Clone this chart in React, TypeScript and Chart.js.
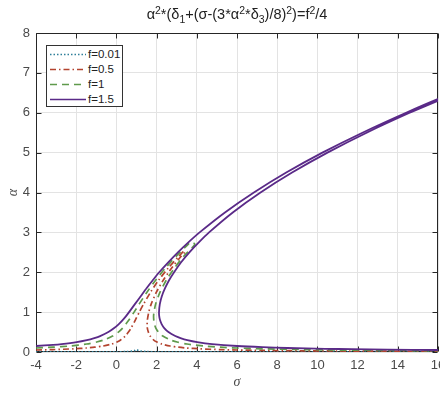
import React, { useEffect, useRef } from 'react';
import { Chart, registerables } from 'chart.js';

Chart.register(...registerables);

// f = 0.01
const f001Sigma = [-4, -2, 0, 0.5, 0.8, 0.9, 1.0, 1.1, 1.2, 1.5, 2, 4, 8, 16];
const f001Alpha = [0.001, 0.0017, 0.005, 0.0099, 0.023, 0.035, 0.06, 0.035, 0.023, 0.0099, 0.005, 0.0017, 0.0007, 0.0003];

// f = 0.5
const f05Sigma = [-4.0, -3.17, -2.12, -1.5, -1.08, -0.66, -0.23, 0.03, 0.21, 0.44, 0.6, 0.73, 0.94, 1.14, 1.35, 1.7, 2.1, 2.57, 3.1, 3.29,
  3.34,
  3.4, 3.22, 2.74, 2.33, 1.99, 1.73, 1.61, 1.54, 1.53, 1.54, 1.59, 1.68, 1.86, 2.02, 2.26, 2.67, 3.09, 3.5, 4.13, 5.17, 6.0, 7.25, 9.33, 11.0, 13.5, 16.0];
const f05Alpha = [0.05, 0.06, 0.08, 0.1, 0.12, 0.15, 0.2, 0.25, 0.3, 0.4, 0.5, 0.6, 0.8, 1.0, 1.2, 1.5, 1.8, 2.1, 2.4, 2.5,
  2.54,
  2.5, 2.4, 2.1, 1.8, 1.5, 1.2, 1.0, 0.8, 0.7, 0.6, 0.5, 0.4, 0.3, 0.25, 0.2, 0.15, 0.12, 0.1, 0.08, 0.06, 0.05, 0.04, 0.03, 0.025, 0.02, 0.0167];

// f = 1
const f1Sigma = [-4.0, -3.16, -2.32, -1.48, -0.98, -0.63, -0.19, 0.1, 0.31, 0.47, 0.62, 0.88, 1.13, 1.52, 1.95, 2.43, 2.97, 3.57,
  3.73,
  3.9, 3.35, 2.88, 2.48, 2.17, 1.95, 1.87, 1.85, 1.86, 1.89, 1.96, 2.09, 2.31, 2.7, 3.02, 3.51, 4.34, 5.17, 6.0, 7.25, 9.34, 11.0, 13.5, 16.0];
const f1Alpha = [0.1, 0.12, 0.15, 0.2, 0.25, 0.3, 0.4, 0.5, 0.6, 0.7, 0.8, 1.0, 1.2, 1.5, 1.8, 2.1, 2.4, 2.7,
  2.76,
  2.7, 2.4, 2.1, 1.8, 1.5, 1.2, 1.0, 0.9, 0.8, 0.7, 0.6, 0.5, 0.4, 0.3, 0.25, 0.2, 0.15, 0.12, 0.1, 0.08, 0.06, 0.05, 0.04, 0.0333];

// f = 1.5
const f15Sigma = [-3.99, -3.15, -2.73, -1.98, -1.47, -1.1, -0.81, -0.4, -0.11, 0.12, 0.31, 0.48, 0.63, 0.92, 1.21, 1.5, 1.81, 2.13, 2.58, 3.06, 3.58, 4.14, 5.4, 6.84, 8.45, 10.25, 12.24, 14.41, 16.28,
  16.44, 14.59, 12.45, 10.5, 8.74, 7.17, 5.79, 4.61, 4.1, 3.63, 3.22, 2.87, 2.62, 2.42, 2.26, 2.16, 2.12, 2.13, 2.17, 2.25, 2.38, 2.59, 2.93, 3.19, 3.53, 4.02, 4.76, 6.01, 7.26, 8.5, 10.38, 11.72, 13.5, 16.0];
const f15Alpha = [0.15, 0.18, 0.2, 0.25, 0.3, 0.35, 0.4, 0.5, 0.6, 0.7, 0.8, 0.9, 1.0, 1.2, 1.4, 1.6, 1.8, 2.0, 2.25, 2.5, 2.75, 3.0, 3.5, 4.0, 4.5, 5.0, 5.5, 6.0, 6.4,
  6.4, 6.0, 5.5, 5.0, 4.5, 4.0, 3.5, 3.0, 2.75, 2.5, 2.25, 2.0, 1.8, 1.6, 1.4, 1.2, 1.0, 0.9, 0.8, 0.7, 0.6, 0.5, 0.4, 0.35, 0.3, 0.25, 0.2, 0.15, 0.12, 0.1, 0.08, 0.07, 0.06, 0.05];

const xTickValues = [-4, -2, 0, 2, 4, 6, 8, 10, 12, 14, 16];
const yTickValues = [0, 1, 2, 3, 4, 5, 6, 7, 8];

const seriesLabels = ['f=0.01', 'f=0.5', 'f=1', 'f=1.5'];
const seriesColors = ['#2f7f99', '#b3432f', '#5f9a4c', '#5a2a88'];
const seriesDashes: number[][] = [[1.5, 2], [6, 3, 1.5, 3], [7, 5], []];

const zip = (xs: number[], ys: number[]) => xs.map((x, i) => ({ x, y: ys[i] }));

const framePlugin = {
  id: 'frame',
  beforeDatasetsDraw(chart: any) {
    const { ctx, chartArea } = chart;
    const { left, right, top, bottom } = chartArea;
    const xs = chart.scales.x;
    const ys = chart.scales.y;
    const L = Math.round(left) + 0.5;
    const R = Math.round(right) - 0.5;
    const T = Math.round(top) + 0.5;
    const B = Math.round(bottom) - 0.5;
    ctx.save();
    ctx.strokeStyle = '#262626';
    ctx.lineWidth = 1;
    ctx.beginPath();
    ctx.rect(L, T, R - L, B - T);
    const tl = 5;
    xTickValues.forEach((v) => {
      const px = Math.round(xs.getPixelForValue(v)) + 0.5;
      ctx.moveTo(px, B);
      ctx.lineTo(px, B - tl);
      ctx.moveTo(px, T);
      ctx.lineTo(px, T + tl);
    });
    yTickValues.forEach((v) => {
      const py = Math.round(ys.getPixelForValue(v)) + 0.5;
      ctx.moveTo(L, py);
      ctx.lineTo(L + tl, py);
      ctx.moveTo(R, py);
      ctx.lineTo(R - tl, py);
    });
    ctx.stroke();
    ctx.restore();
  },
};

export default function App() {
  const ref = useRef<HTMLCanvasElement>(null);

  useEffect(() => {
    const sets = [
      zip(f001Sigma, f001Alpha),
      zip(f05Sigma, f05Alpha),
      zip(f1Sigma, f1Alpha),
      zip(f15Sigma, f15Alpha),
    ];
    const chart = new Chart(ref.current as HTMLCanvasElement, {
      type: 'scatter',
      data: {
        datasets: sets.map((d, i) => ({
          label: seriesLabels[i],
          data: d,
          showLine: true,
          borderColor: seriesColors[i],
          backgroundColor: seriesColors[i],
          borderWidth: i === 3 ? 1.8 : 1.7,
          borderDash: seriesDashes[i],
          pointRadius: 0,
          tension: 0.25,
          order: 3 - i,
        })),
      },
      plugins: [framePlugin],
      options: {
        animation: false,
        responsive: false,
        devicePixelRatio: 1,
        layout: { padding: { top: 33, right: 2, left: 0, bottom: 0 } },
        plugins: {
          legend: { display: false },
          title: { display: false },
          tooltip: { enabled: false },
        },
        scales: {
          x: {
            type: 'linear',
            min: -4,
            max: 16,
            afterBuildTicks: (s: any) => {
              s.ticks = xTickValues.map((v) => ({ value: v }));
            },
            afterFit: (s: any) => {
              s.height = 42;
              s.paddingLeft = 0;
              s.paddingRight = 0;
            },
            ticks: {
              color: '#4a4a4a',
              padding: 6,
              maxRotation: 0,
              font: { family: '"Liberation Sans", Arial, sans-serif', size: 13 },
            },
            grid: { color: '#e3e3e3', drawTicks: false },
            border: { display: false },
            title: {
              display: true,
              text: 'σ',
              color: '#4a4a4a',
              padding: { top: 0, bottom: 3 },
              font: { family: '"Liberation Serif", serif', size: 14, style: 'italic' },
            },
          },
          y: {
            type: 'linear',
            min: 0,
            max: 8,
            afterBuildTicks: (s: any) => {
              s.ticks = yTickValues.map((v) => ({ value: v }));
            },
            afterFit: (s: any) => {
              s.width = 36;
              s.paddingTop = 0;
              s.paddingBottom = 0;
            },
            ticks: {
              color: '#4a4a4a',
              padding: 6,
              font: { family: '"Liberation Sans", Arial, sans-serif', size: 13 },
            },
            grid: { color: '#e3e3e3', drawTicks: false },
            border: { display: false },
            title: {
              display: true,
              text: 'α',
              color: '#4a4a4a',
              padding: { top: 5, bottom: 0 },
              font: { family: '"Liberation Serif", serif', size: 14, style: 'italic' },
            },
          },
        },
      },
    } as any);
    return () => chart.destroy();
  }, []);

  const supStyle: React.CSSProperties = { fontSize: '0.72em', lineHeight: 0, position: 'relative', top: '-0.5em', verticalAlign: 'baseline' };
  const subStyle: React.CSSProperties = { fontSize: '0.72em', lineHeight: 0, position: 'relative', top: '0.35em', verticalAlign: 'baseline' };

  return (
    <div style={{ position: 'absolute', left: 0, top: 0, width: 440, height: 394, background: '#fff', overflow: 'hidden', fontFamily: '"Liberation Sans", Arial, sans-serif' }}>
      <canvas ref={ref} width={440} height={394} style={{ position: 'absolute', left: 0, top: 0, width: 440, height: 394 }} />
      <div style={{ position: 'absolute', left: 0, top: 4, width: 474, textAlign: 'center', fontSize: 14.5, lineHeight: '20px', color: '#222', whiteSpace: 'nowrap' }}>
        α<span style={supStyle}>2</span>*(δ<span style={subStyle}>1</span>+(σ-(3*α<span style={supStyle}>2</span>*δ<span style={subStyle}>3</span>)/8)<span style={supStyle}>2</span>)=f<span style={supStyle}>2</span>/4
      </div>
      <div style={{ position: 'absolute', left: 46, top: 45, width: 77, height: 62, border: '1px solid #333', background: '#fff', boxSizing: 'border-box' }}>
        {seriesLabels.map((lab, i) => (
          <div key={lab} style={{ position: 'absolute', left: 0, top: 1 + i * 15, height: 15, width: 76 }}>
            <svg width={40} height={15} style={{ position: 'absolute', left: 1, top: 0 }}>
              <line x1={2} y1={7.5} x2={38} y2={7.5} stroke={seriesColors[i]} strokeWidth={1.7} strokeDasharray={seriesDashes[i].length ? seriesDashes[i].join(' ') : undefined} />
            </svg>
            <span style={{ position: 'absolute', left: 41, top: 0, fontSize: 11.5, lineHeight: '15px', color: '#222' }}>{lab}</span>
          </div>
        ))}
      </div>
    </div>
  );
}
